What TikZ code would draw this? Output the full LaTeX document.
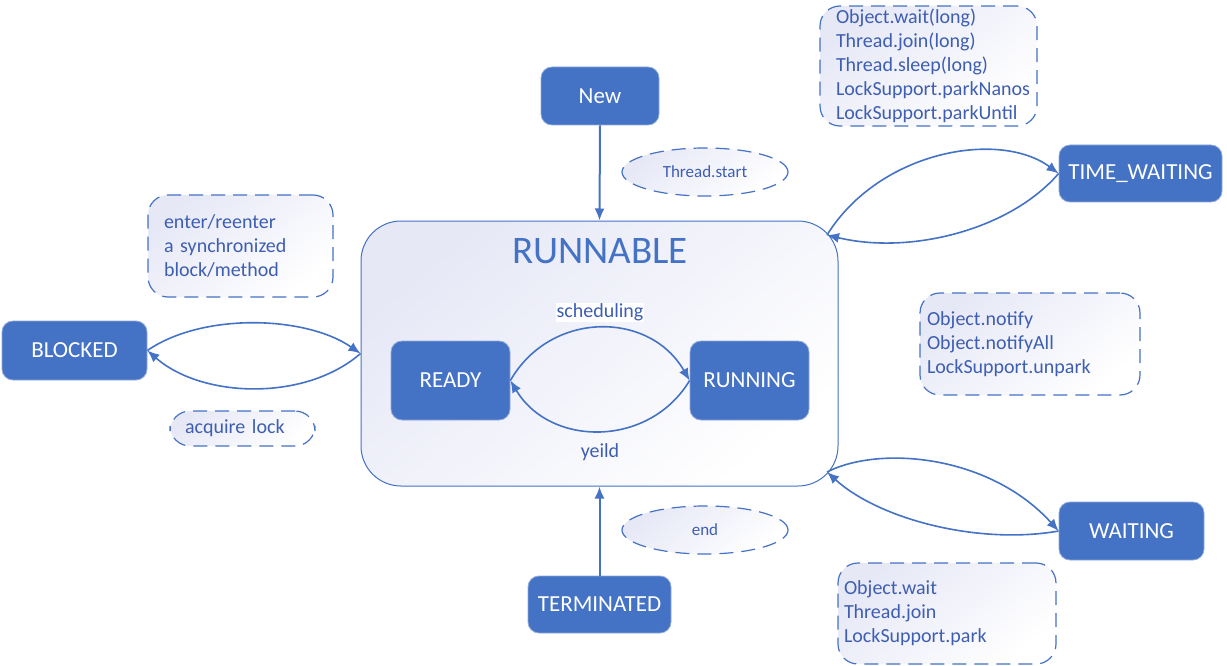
\documentclass[tikz,border=0pt]{standalone}
\usepackage{fontspec}
\setmainfont{Carlito}
\usetikzlibrary{arrows.meta,positioning,shapes.geometric}
\definecolor{stblue}{RGB}{68,114,196}
\definecolor{sttext}{RGB}{62,94,178}
\definecolor{stlav}{RGB}{230,232,246}

\begin{document}
\begin{tikzpicture}[
    x=1pt, y=-1pt,
    font=\fontsize{20}{24}\selectfont,
    statebox/.style={draw=stblue!60!white,line width=0.8pt,fill=stblue,text=white,rounded corners=11pt,inner sep=0pt,font=\fontsize{23}{26}\selectfont},
    softfill/.style={top color=stlav,bottom color=white,shading angle=40},
    notebox/.style={draw=stblue,line width=1.2pt,dash pattern=on 14pt off 8pt,rounded corners=20pt,softfill,text=sttext,align=left,inner ysep=0pt},
    noteoval/.style={ellipse,draw=stblue,line width=1.2pt,dash pattern=on 14pt off 8pt,softfill,text=sttext,minimum width=166pt,minimum height=48pt,font=\fontsize{17}{20}\selectfont},
    trans/.style={-{Latex[length=12pt,width=10pt]},stblue,line width=1.6pt},
    edgetext/.style={text=sttext}
  ]
    \useasboundingbox[fill=white] (0,0) rectangle (1227,666);

    \node[draw=stblue,line width=1pt,rounded corners=40pt,softfill,minimum width=477pt,minimum height=265pt] (runnable) at (599.5,353.5) {};
    \node[text=stblue,font=\fontsize{39}{44}\selectfont] (runtitle) at (600,251) {RUNNABLE};

    \node[statebox,minimum width=118pt,minimum height=58pt] (new) at (600,96) {New};
    \node[statebox,minimum width=145pt,minimum height=59pt] (blocked) at (74.5,350.5) {BLOCKED};
    \node[statebox,minimum width=119pt,minimum height=79pt] (ready) at (450.5,380.5) {READY};
    \node[statebox,minimum width=119pt,minimum height=79pt] (running) at (749.5,380.5) {RUNNING};
    \node[statebox,minimum width=163pt,minimum height=57pt] (timew) at (1140.5,173.5) {TIME\_WAITING};
    \node[statebox,minimum width=145pt,minimum height=58pt] (waiting) at (1131.5,531) {WAITING};
    \node[statebox,minimum width=143pt,minimum height=57pt] (term) at (599.5,604.5) {TERMINATED};

    \node[noteoval] (startnote) at (705,172) {Thread.start};
    \node[noteoval] (endnote) at (705,530) {end};

    \node[notebox,text width=185pt,inner xsep=16pt,minimum height=120pt] (timednote) at (928.5,66) {Object.wait(long)\\Thread.join(long)\\Thread.sleep(long)\\LockSupport.parkNanos\\LockSupport.parkUntil};
    \node[notebox,text width=206pt,inner xsep=7pt,minimum height=102pt] (notifynote) at (1030,344) {Object.notify\\Object.notifyAll\\LockSupport.unpark};
    \node[notebox,text width=206pt,inner xsep=6pt,minimum height=101pt] (waitnote) at (947,613.5) {Object.wait\\Thread.join\\LockSupport.park};
    \node[notebox,text width=153pt,inner xsep=16pt,minimum height=102pt] (syncnote) at (240.5,246) {enter/reenter\\a synchronized\\block/method};
    \node[notebox,text width=115pt,inner xsep=15pt,minimum height=35pt] (locknote) at (242.5,428.5) {acquire lock};

    \coordinate (rnNE) at (827,235);
    \coordinate (rnSE) at (827,472);

    \draw[trans,line width=2pt] (new.south) -- (runnable.north);
    \draw[trans,line width=2pt] (term.north) -- (runnable.south);
    \draw[trans] (ready.east) .. controls +(40,-70) and +(-40,-70) .. (running.west) node[pos=0.5,edgetext,fill=white,inner sep=1pt,above=5pt] {scheduling};
    \draw[trans] (running.west) .. controls +(-40,67) and +(40,67) .. (ready.east) node[pos=0.5,edgetext,below=9pt] {yeild};
    \draw[trans] (blocked.east) .. controls +(55,-38) and +(-55,-38) .. (runnable.west);
    \draw[trans] (runnable.west) .. controls +(-55,48) and +(55,48) .. (blocked.east);
    \draw[trans] (rnNE) .. controls (880,150) and (1000,130) .. (timew.west);
    \draw[trans] (timew.west) .. controls (1010,230) and (910,255) .. (rnNE);
    \draw[trans] (rnSE) .. controls (880,445) and (990,455) .. (waiting.west);
    \draw[trans] (waiting.west) .. controls (980,545) and (880,520) .. (rnSE);
  \end{tikzpicture}
\end{document}
